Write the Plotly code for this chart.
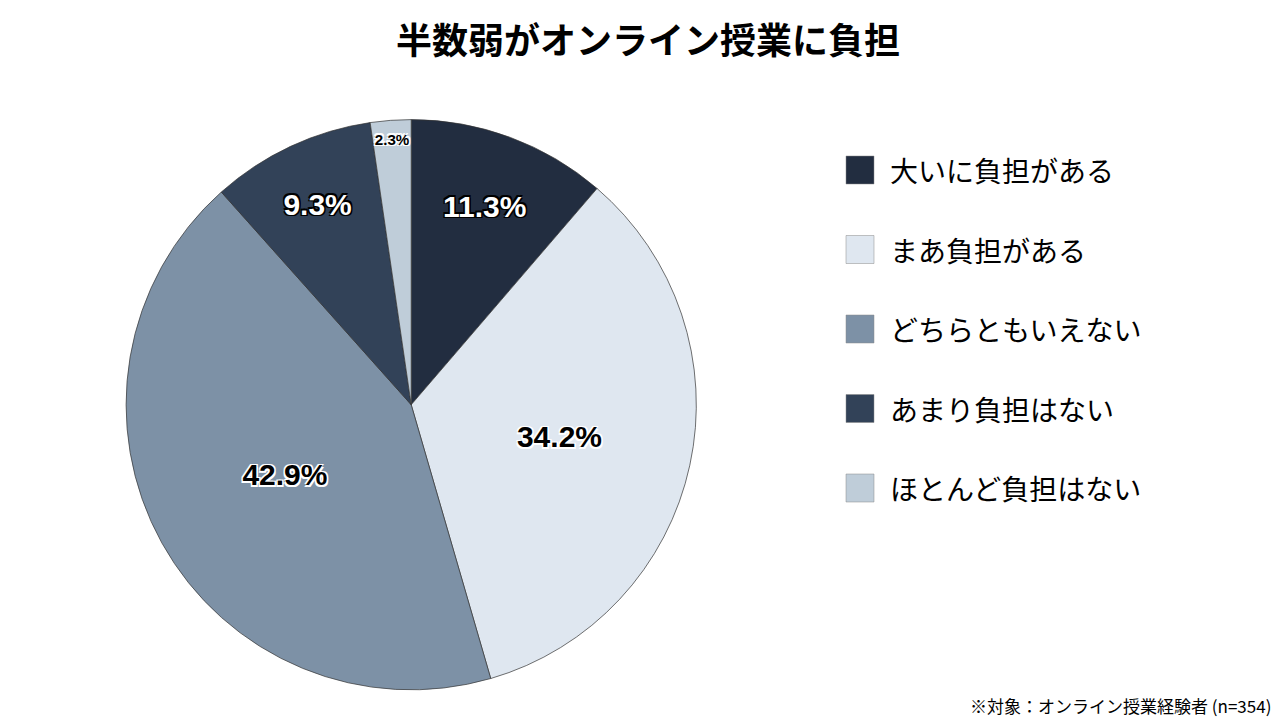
import plotly.graph_objects as go

labels = ["大いに負担がある", "まあ負担がある", "どちらともいえない", "あまり負担はない", "ほとんど負担はない"]
values = [11.3, 34.2, 42.9, 9.3, 2.3]
colors = ["#222d40", "#dfe7f0", "#7d91a6", "#324258", "#bfcdd9"]
text_colors = ["white", "black", "black", "white", "black"]
outline_colors = ["black", "white", "white", "black", "white"]

FONT = "Noto Sans CJK JP"

fig = go.Figure()
fig.add_trace(go.Pie(
    labels=labels, values=values, sort=False, direction="clockwise", rotation=0,
    marker=dict(colors=colors, line=dict(color="#333", width=0.7)),
    texttemplate="%{value:.1f}%", textposition="inside", insidetextorientation="horizontal",
    textfont=dict(family="Arial Black, Liberation Sans", size=30, color=text_colors,
                  weight="bold",
                  shadow=[f"1.5px 1.5px 0 {c}, -1.5px -1.5px 0 {c}, 1.5px -1.5px 0 {c}, -1.5px 1.5px 0 {c}" for c in outline_colors]),
    domain=dict(x=[0.092, 0.538], y=[0.053, 0.845]),
    showlegend=False, hoverinfo="label+percent",
))

# legend drawn by hand (big squares)
shapes, annotations = [], []
for i, (lab, col) in enumerate(zip(labels, colors)):
    yc = 162 + i * 79.5
    shapes.append(dict(type="rect", xref="paper", yref="paper",
                       x0=838 / 1280, x1=866 / 1280,
                       y0=1 - (yc + 14) / 720, y1=1 - (yc - 14) / 720,
                       fillcolor=col, line=dict(color="#888", width=0.5)))
    annotations.append(dict(text=lab, xref="paper", yref="paper", x=880 / 1280, y=1 - yc / 720,
                            xanchor="left", yanchor="middle", showarrow=False,
                            font=dict(family=FONT, size=28, color="black")))

annotations.append(dict(text="※対象：オンライン授業経験者 (n=354)", xref="paper", yref="paper",
                        x=1265 / 1280, y=1 - 697 / 720, xanchor="right", yanchor="middle",
                        showarrow=False, font=dict(family=FONT, size=17, color="black")))

fig.update_layout(
    width=1280, height=720, margin=dict(l=0, r=0, t=0, b=0),
    paper_bgcolor="white", plot_bgcolor="white",
    title=dict(text="<b>半数弱がオンライン授業に負担</b>", x=0.5, y=1 - 33 / 720, xanchor="center",
               yanchor="middle", font=dict(family=FONT, size=36, color="black")),
    shapes=shapes, annotations=annotations,
)

fig.write_html("out.html")
